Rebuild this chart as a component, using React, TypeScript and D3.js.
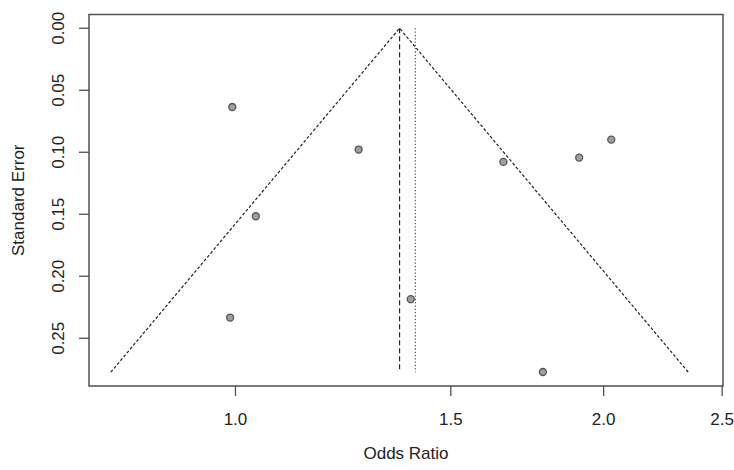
import React from "react";
import * as d3 from "d3";

const oddsRatios = [0.994, 1.261, 1.039, 0.99, 1.391, 1.656, 1.91, 2.029, 1.784];
const standardErrors = [0.0635, 0.0978, 0.1516, 0.2333, 0.2185, 0.1078, 0.1043, 0.0898, 0.2772];
const xTicks = [1.0, 1.5, 2.0, 2.5];
const yTicks = [0.0, 0.05, 0.1, 0.15, 0.2, 0.25];
const estimate = 1.362;
const refLine = 1.403;
const seMax = 0.2774;

const W = 734;
const H = 470;
const L = 89, R = 723, T = 14.5, B = 386;

export default function App() {
  const x = d3.scaleLog().domain([0.759, 2.504]).range([L, R]);
  const y = d3.scaleLinear().domain([-0.0111, 0.2885]).range([T, B]);
  const funnel: [number, number][] = [
    [estimate * Math.exp(-1.96 * seMax), seMax],
    [estimate, 0],
    [estimate * Math.exp(1.96 * seMax), seMax],
  ];
  const line = d3.line<[number, number]>().x((d) => x(d[0])).y((d) => y(d[1]));
  const font = "'Liberation Sans', Arial, sans-serif";
  const axisCol = "#505050";
  const textCol = "#222";
  const fs = 17;
  return (
    <svg width={W} height={H} style={{ position: "absolute", left: 0, top: 0, background: "#fff" }} fontFamily={font}>
      <rect x={L} y={T} width={R - L} height={B - T} fill="none" stroke={axisCol} strokeWidth={1.5} />
      {yTicks.map((t) => (
        <g key={t}>
          <line x1={L - 10} x2={L} y1={y(t)} y2={y(t)} stroke={axisCol} strokeWidth={1.3} />
          <text
            transform={`translate(${L - 31},${y(t)}) rotate(-90)`}
            textAnchor="middle"
            dy="0.35em"
            fontSize={fs}
            fill={textCol}
          >
            {t.toFixed(2)}
          </text>
        </g>
      ))}
      {xTicks.map((t) => (
        <g key={t}>
          <line x1={x(t)} x2={x(t)} y1={B} y2={B + 10} stroke={axisCol} strokeWidth={1.3} />
          <text x={x(t)} y={425} textAnchor="middle" fontSize={fs} fill={textCol}>
            {t.toFixed(1)}
          </text>
        </g>
      ))}
      <text x={(L + R) / 2} y={459} textAnchor="middle" fontSize={fs} fill={textCol}>
        Odds Ratio
      </text>
      <text transform={`translate(24,${(T + B) / 2}) rotate(-90)`} textAnchor="middle" fontSize={fs} fill={textCol}>
        Standard Error
      </text>
      <path d={line(funnel) || ""} fill="none" stroke="#222" strokeWidth={1.2} strokeDasharray="3,2" />
      <line x1={x(estimate)} x2={x(estimate)} y1={y(0)} y2={y(seMax)} stroke="#222" strokeWidth={1.2} strokeDasharray="5,3" />
      <line x1={x(refLine)} x2={x(refLine)} y1={y(0)} y2={y(seMax)} stroke="#444" strokeWidth={1.1} strokeDasharray="1.3,2" />
      {oddsRatios.map((o, i) => (
        <circle key={i} cx={x(o)} cy={y(standardErrors[i])} r={3.5} fill="#a0a0a0" stroke="#555" strokeWidth={1.3} />
      ))}
    </svg>
  );
}
